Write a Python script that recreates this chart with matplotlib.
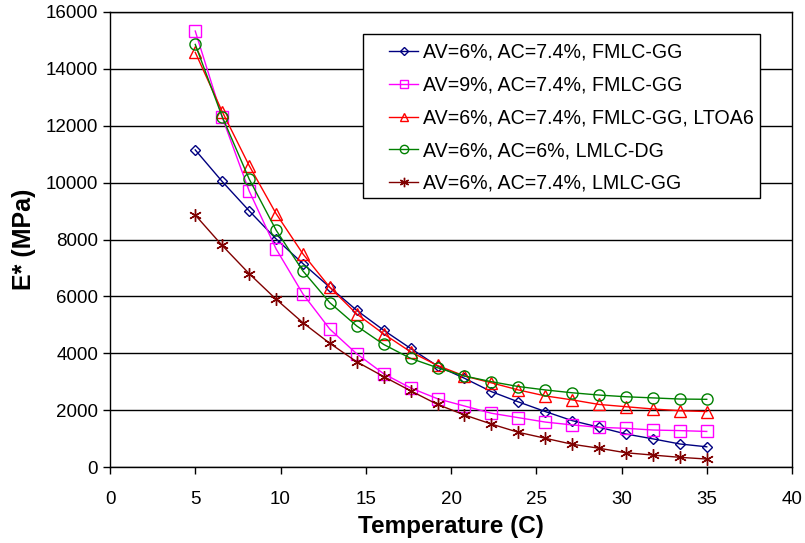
import matplotlib
matplotlib.use("Agg")
import matplotlib.pyplot as plt
from matplotlib.patches import Rectangle

plt.rcParams['font.family'] = ['Liberation Sans', 'DejaVu Sans']

temperature = [5.0, 6.58, 8.16, 9.74, 11.32, 12.89, 14.47, 16.05, 17.63, 19.21,
               20.79, 22.37, 23.95, 25.53, 27.11, 28.68, 30.26, 31.84, 33.42, 35.0]

e_fmlc_gg = [11150, 10040, 9010, 8020, 7150, 6320, 5510, 4810, 4170, 3550,
             3120, 2650, 2290, 1950, 1630, 1400, 1160, 990, 810, 710]
e_av9_fmlc_gg = [15330, 12300, 9710, 7670, 6080, 4850, 3980, 3280, 2780, 2400,
                 2145, 1890, 1735, 1580, 1480, 1395, 1360, 1300, 1280, 1250]
e_fmlc_gg_ltoa6 = [14580, 12500, 10600, 8910, 7490, 6320, 5380, 4680, 4050, 3570,
                   3200, 2960, 2710, 2500, 2360, 2200, 2120, 2040, 1980, 1950]
e_lmlc_dg = [14860, 12320, 10130, 8330, 6890, 5780, 4960, 4310, 3820, 3490,
             3200, 3000, 2830, 2710, 2610, 2530, 2470, 2430, 2390, 2380]
e_lmlc_gg = [8860, 7790, 6800, 5900, 5070, 4350, 3700, 3180, 2680, 2200,
             1830, 1510, 1220, 1010, 800, 660, 500, 420, 340, 280]

labels = ["AV=6%, AC=7.4%, FMLC-GG",
          "AV=9%, AC=7.4%, FMLC-GG",
          "AV=6%, AC=7.4%, FMLC-GG, LTOA6",
          "AV=6%, AC=6%, LMLC-DG",
          "AV=6%, AC=7.4%, LMLC-GG"]

x_ticks = [0, 5, 10, 15, 20, 25, 30, 35, 40]
y_ticks = [0, 2000, 4000, 6000, 8000, 10000, 12000, 14000, 16000]

series = [e_fmlc_gg, e_av9_fmlc_gg, e_fmlc_gg_ltoa6, e_lmlc_dg, e_lmlc_gg]
styles = [
    dict(color="#000080", marker="D", ms=5.5),
    dict(color="#FF00FF", marker="s", ms=8),
    dict(color="#FF0000", marker="^", ms=8.5),
    dict(color="#008000", marker="o", ms=8),
    dict(color="#800000", marker=(6, 2, 0), ms=9),
]

W, H = 805, 543
fig = plt.figure(figsize=(W / 100, H / 100), dpi=100)
ax = fig.add_axes([110 / W, 76 / H, 682 / W, 455 / H])

for ys, lab, st in zip(series, labels, styles):
    c = st["color"]
    ax.plot(temperature, ys, color=c, lw=1.0, marker=st["marker"], ms=st["ms"],
            mfc="none", mec=c, mew=1.0, label=lab, zorder=3)

ax.set_xlim(0, 40)
ax.set_ylim(0, 16000)
ax.set_xticks(x_ticks)
ax.set_yticks(y_ticks)
ax.yaxis.grid(True, color="black", lw=1.0)
ax.set_axisbelow(True)
for sp in ax.spines.values():
    sp.set_color("black")
    sp.set_linewidth(1.0)

ax.tick_params(axis="both", direction="out", length=5, width=1.0,
               labelsize=13.5, colors="black")
ax.tick_params(axis="x", pad=12)

ax.set_xlabel("Temperature (C)", fontsize=17.5, fontweight="bold", labelpad=5)
ax.set_ylabel("E* (MPa)", fontsize=18, fontweight="bold", labelpad=7)

# legend box drawn separately so the padding inside can be wider at the left
frame = Rectangle((363 / W, (H - 198) / H), 397 / W, 164 / H,
                  transform=fig.transFigure, facecolor="white",
                  edgecolor="black", lw=1.0, zorder=4)
fig.add_artist(frame)

leg = fig.legend(*ax.get_legend_handles_labels(), loc="upper left",
                 bbox_to_anchor=(389 / W, (H - 43) / H),
                 bbox_transform=fig.transFigure, fontsize=14.1,
                 frameon=False, handlelength=1.5, handletextpad=0.25,
                 labelspacing=0.7, borderpad=0, borderaxespad=0,
                 markerscale=0.75)
leg.set_zorder(5)

fig.savefig("out.png", dpi=100)
